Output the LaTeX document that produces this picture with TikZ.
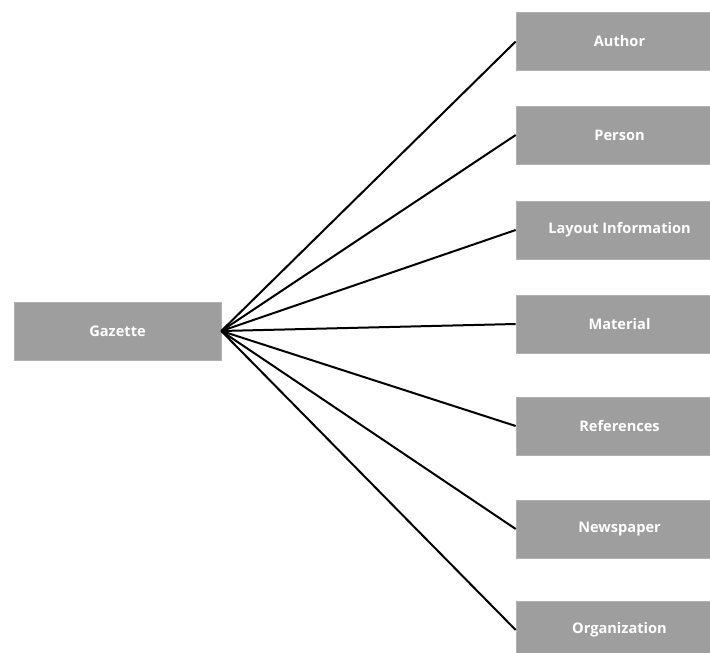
\documentclass[tikz,border=0pt]{standalone}
\usepackage{fontspec}
\setmainfont{Open Sans}
\definecolor{boxgray}{HTML}{9E9E9E}
\tikzset{
  box/.style={fill=boxgray, draw=boxgray!80!white, line width=0.6pt, text=white,
    font=\bfseries\fontsize{14.6}{17}\selectfont, minimum width=207pt,
    minimum height=58pt, inner sep=0pt},
  link/.style={line width=2pt, black}
}
\begin{document}
\begin{tikzpicture}[x=1pt, y=-1pt]
            \useasboundingbox (0,0) rectangle (710,653);

            % Draw root box
            \node[box] (gazette) at (117.5,331) {Gazette};

            % Draw right boxes
            \node[box] (author) at (619.5,41.5) {Author};
            \node[box] (person) at (619.5,135) {Person};
            \node[box] (layout) at (619.5,230) {Layout Information};
            \node[box] (material) at (619.5,324) {Material};
            \node[box] (references) at (619.5,426) {References};
            \node[box] (newspaper) at (619.5,529) {Newspaper};
            \node[box] (organization) at (619.5,630) {Organization};

            % Draw links
            \foreach \n in {author,person,layout,material,references,newspaper,organization}
                \draw[link] (gazette.east) -- (\n.west);
\end{tikzpicture}
\end{document}
